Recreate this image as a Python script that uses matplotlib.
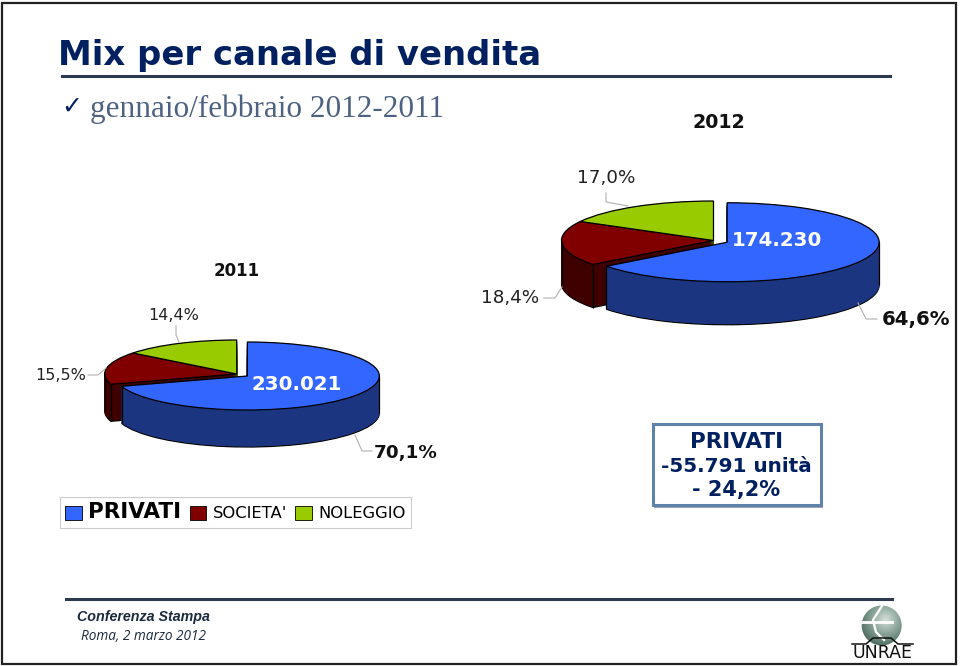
import numpy as np
import matplotlib
matplotlib.use('Agg')
import matplotlib.pyplot as plt
from matplotlib.colors import LinearSegmentedColormap
from matplotlib.patches import Patch, Rectangle, Circle

canali = ['PRIVATI', "SOCIETA'", 'NOLEGGIO']
mix_2012 = [64.6, 18.4, 17.0]
mix_2011 = [70.1, 15.5, 14.4]
etich_2012 = ['64,6%', '18,4%', '17,0%']
etich_2011 = ['70,1%', '15,5%', '14,4%']
unita_2012 = '174.230'
unita_2011 = '230.021'

colori = ['#3366ff', '#800000', '#99cc00']
colori_lato = ['#1c3580', '#3f0000', '#4d6600']
NAVY = '#002060'
W, H = 960, 666

fig = plt.figure(figsize=(W / 100, H / 100), dpi=100, facecolor='white')


def torta(valori, cx, cy, rx, ry, depth):
    ax = fig.add_axes([0, 0, 1, 1])
    esplodi = [0.1, 0, 0]

    def strato(k, quali, cols, lw, ec):
        wedges, _ = ax.pie(valori, explode=esplodi, colors=cols, startangle=90,
                           counterclock=False, radius=1, center=(0, -k / ry),
                           wedgeprops=dict(linewidth=lw, edgecolor=ec))
        for i, w in enumerate(wedges):
            if i not in quali:
                w.remove()
        return wedges

    # fianchi: prima rosso e verde, poi il blu che sta davanti
    for quali in ([1, 2], [0]):
        strato(depth, quali, colori_lato, 0.9, 'black')
        for k in np.arange(depth - 1, 0, -1):
            for i in quali:
                strato(k, [i], colori_lato, 0.6, colori_lato[i])
    top = strato(0, [0, 1, 2], colori, 0.9, 'black')

    # spigoli verticali
    blu, rosso = top[0], top[1]
    d = depth / ry
    for w, ang in ((blu, blu.theta1), (blu, 0), (rosso, 180), (rosso, blu.theta1)):
        x = w.center[0] + np.cos(np.radians(ang))
        y = w.center[1] + np.sin(np.radians(ang))
        ax.vlines(x, y - d, y, color='black', lw=0.9)

    ax.set_aspect('auto')
    ax.set_xlim((0 - cx) / rx, (W - cx) / rx)
    ax.set_ylim((cy - H) / ry, cy / ry)
    ax.axis('off')


torta(mix_2012, 713.5, 240.5, 152, 39.5, 43)
torta(mix_2011, 236.7, 374, 132, 34, 37)

# tutto il resto in coordinate pixel
px = fig.add_axes([0, 0, 1, 1], zorder=5)
px.patch.set_visible(False)

px.add_patch(Rectangle((2, 3), 954, 661, fc='none', ec='#222222', lw=1.6))
px.plot([62, 890], [76, 76], color='#2b3a4f', lw=2.2)
px.plot([66, 892], [599, 599], color='#2b3a4f', lw=2.2)

px.text(58, 55, 'Mix per canale di vendita', color=NAVY, fontsize=24.4, fontweight='bold',
        family='DejaVu Sans', va='center')
px.text(61, 107, '\u2713', color=NAVY, fontsize=18, family='DejaVu Sans', va='center')
px.text(90, 109, 'gennaio/febbraio 2012-2011', color='#4d6180', fontsize=22.5,
        family='Liberation Serif', va='center')

px.text(718.5, 122, '2012', fontsize=13.7, fontweight='bold', ha='center', va='center', color='#111111')
px.text(237, 271, '2011', fontsize=12, fontweight='bold', ha='center', va='center', color='#111111')

px.text(777, 240, unita_2012, color='white', fontsize=14.2, fontweight='bold', ha='center', va='center')
px.text(297, 385, unita_2011, color='white', fontsize=14.2, fontweight='bold', ha='center', va='center')

px.text(606, 178, etich_2012[2], fontsize=13.2, ha='center', va='center', color='#222222')
px.text(510, 298, etich_2012[1], fontsize=13.2, ha='center', va='center', color='#222222')
px.text(916, 320, etich_2012[0], fontsize=14.2, fontweight='bold', ha='center', va='center', color='#111111')
px.text(174, 315, etich_2011[2], fontsize=11.5, ha='center', va='center', color='#222222')
px.text(61, 376, etich_2011[1], fontsize=11.5, ha='center', va='center', color='#222222')
px.text(406, 453, etich_2011[0], fontsize=13.2, fontweight='bold', ha='center', va='center', color='#111111')

# linee guida delle etichette
guide = [([606, 606, 628], [193, 202, 206]),
         ([544, 555, 562], [298, 298, 287]),
         ([877, 866, 858], [319, 319, 303]),
         ([176, 176, 179], [326, 335, 342]),
         ([88, 98, 106], [375, 375, 368]),
         ([372, 362, 355], [451, 451, 435])]
for gx, gy in guide:
    px.plot(gx, gy, color='#b0b0b0', lw=0.8)

# riquadro variazione
px.add_patch(Rectangle((654, 426), 169, 82, fc='#9aa9b8', ec='none'))
px.add_patch(Rectangle((653, 424), 168, 81, fc='white', ec='#5f82a8', lw=2.2))
px.text(737, 442, 'PRIVATI', color=NAVY, fontsize=15.5, fontweight='bold', ha='center', va='center')
px.text(736, 466, '-55.791 unità', color=NAVY, fontsize=14.4, fontweight='bold', ha='center', va='center')
px.text(736, 490, '- 24,2%', color=NAVY, fontsize=15, fontweight='bold', ha='center', va='center')

# piede
px.text(77, 617, 'Conferenza Stampa', color='#1b2a3f', fontsize=10.3, fontweight='bold', style='italic',
        va='center', family='Liberation Sans')
px.text(81, 636, 'Roma, 2 marzo 2012', color='#1b2a3f', fontsize=9.8, style='italic', va='center',
        family='Open Sans')

# logo
yy, xx = np.mgrid[-1:1:80j, -1:1:80j]
grad = np.hypot(xx - 0.2, yy + 0.3)
cmap_logo = LinearSegmentedColormap.from_list('logo', ['#d5e0da', '#8fa89e', '#4f6f62'])
sfera = px.imshow(grad, extent=(861, 902, 646, 605), cmap=cmap_logo, vmin=0, vmax=1.3,
                  aspect='auto', zorder=2)
sfera.set_clip_path(Circle((881.7, 625.5), 20, transform=px.transData))
px.plot([862, 892], [622, 622], color='white', lw=2, zorder=3)
px.plot([882, 873, 876, 884], [606, 620, 632, 640], color='white', lw=1.6, zorder=3)
px.plot([852, 866, 873, 891, 898, 913], [644, 644, 638, 638, 644, 644], color='#111111', lw=1.1, zorder=4)
px.text(882.5, 653, 'UNRAE', fontsize=12.5, family='DejaVu Sans', ha='center', va='center',
        color='#111111', zorder=4)

px.set_xlim(0, W)
px.set_ylim(H, 0)
px.axis('off')

handles = [Patch(fc=c, ec='black', lw=0.6) for c in colori]
leg = px.legend(handles, canali, ncol=3, loc='center', bbox_to_anchor=(235.5 / W, 1 - 512.5 / H),
                fancybox=False, framealpha=1, edgecolor='#cccccc', fontsize=11.8, handlelength=1.0,
                handleheight=1.0, columnspacing=0.5, handletextpad=0.4, borderpad=0.35, borderaxespad=0)
leg.get_frame().set_linewidth(0.8)
leg.get_texts()[0].set_fontweight('bold')
leg.get_texts()[0].set_fontsize(15.5)

fig.savefig('out.png', dpi=100)
